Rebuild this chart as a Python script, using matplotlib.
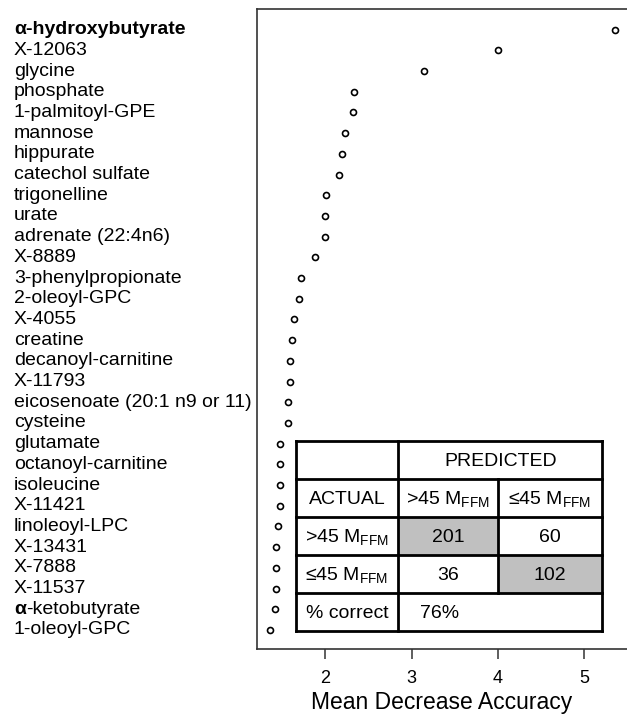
"""
Random-forest variable importance (Mean Decrease Accuracy) dot plot
with a confusion-matrix inset.
"""

import matplotlib
matplotlib.use("Agg")
import matplotlib.pyplot as plt
import matplotlib.transforms as mtransforms
from matplotlib import font_manager
from matplotlib.patches import Rectangle

# ─────────────────────────────────────────────────────────────────────────────
# DATA
# ─────────────────────────────────────────────────────────────────────────────
metabolites = [
    "α-hydroxybutyrate", "X-12063", "glycine", "phosphate", "1-palmitoyl-GPE",
    "mannose", "hippurate", "catechol sulfate", "trigonelline", "urate",
    "adrenate (22:4n6)", "X-8889", "3-phenylpropionate", "2-oleoyl-GPC",
    "X-4055", "creatine", "decanoyl-carnitine", "X-11793",
    "eicosenoate (20:1 n9 or 11)", "cysteine", "glutamate",
    "octanoyl-carnitine", "isoleucine", "X-11421", "linoleoyl-LPC",
    "X-13431", "X-7888", "X-11537", "α-ketobutyrate", "1-oleoyl-GPC",
]
mean_decrease_acc = [
    5.36, 4.00, 3.14, 2.33, 2.32, 2.23, 2.19, 2.16, 2.01, 2.00,
    1.99, 1.88, 1.72, 1.69, 1.63, 1.61, 1.59, 1.59, 1.57, 1.57,
    1.47, 1.47, 1.47, 1.47, 1.45, 1.43, 1.43, 1.43, 1.41, 1.36,
]
x_ticks = [2, 3, 4, 5]

# confusion matrix inset
grp_hi = r">45 M$_{\mathregular{FFM}}$"
grp_lo = r"≤45 M$_{\mathregular{FFM}}$"
conf_counts = [[201, 60], [36, 102]]
pct_correct = "76%"

# ─────────────────────────────────────────────────────────────────────────────
# FONTS
# ─────────────────────────────────────────────────────────────────────────────
_names = {f.name for f in font_manager.fontManager.ttflist}
NARROW = ("Liberation Sans Narrow" if "Liberation Sans Narrow" in _names
          else "Liberation Sans")
narrow_ok = NARROW == "Liberation Sans Narrow"
plt.rcParams["font.family"] = ["Liberation Sans", "DejaVu Sans"]

LBL_FS = 14
TAB_FS = 14

# ─────────────────────────────────────────────────────────────────────────────
# FIGURE
# ─────────────────────────────────────────────────────────────────────────────
fig = plt.figure(figsize=(6.27, 7.14), dpi=100)
ax = fig.add_axes([0.4094, 0.0910, 0.5906, 0.8964])

n = len(metabolites)
ypos = list(range(n))
ax.plot(mean_decrease_acc, ypos, "o", ls="none", ms=4.3, mfc="none",
        mec="black", mew=1.2, zorder=2)
ax.set_ylim(n - 1 + 0.92, -1.0)
ax.set_xlim(1.203, 5.494)
ax.set_yticks([])
ax.set_xticks(x_ticks)
ax.set_xticklabels([str(t) for t in x_ticks], family=NARROW,
                   fontsize=15 if narrow_ok else 13)
ax.tick_params(axis="x", direction="out", length=7, width=1.1,
               color="#333333", pad=8)
ax.set_xlabel("Mean Decrease Accuracy", family=NARROW,
              fontsize=20 if narrow_ok else 16.5, labelpad=3)
ax.spines["right"].set_visible(False)
for s in ("left", "top", "bottom"):
    ax.spines[s].set_linewidth(1.2)
    ax.spines[s].set_color("#333333")

# metabolite labels, left aligned in figure space
trans = mtransforms.blended_transform_factory(fig.transFigure, ax.transData)
for y, name in zip(ypos, metabolites):
    if name == "α-hydroxybutyrate":
        ax.text(0.0223, y, name, transform=trans, va="center", ha="left",
                fontsize=LBL_FS, fontweight="bold")
    elif name.startswith("α-"):
        t = ax.text(0.0223, y, "α", transform=trans, va="center", ha="left",
                    fontsize=LBL_FS, fontweight="bold")
        ax.annotate(name[1:], xy=(1, 0), xycoords=t, va="bottom", ha="left",
                    fontsize=LBL_FS)
    else:
        ax.text(0.0223, y, name, transform=trans, va="center", ha="left",
                fontsize=LBL_FS)

# ── Confusion-matrix inset ───────────────────────────────────────────────────
tab = fig.add_axes([0.4716, 0.1162, 0.4890, 0.2662])
tab.set_xlim(0, 1); tab.set_ylim(0, 1); tab.axis("off")
cx = [0.0, 0.3346, 0.6588, 1.0]
ry = [1.0, 0.8, 0.6, 0.4, 0.2, 0.0]
gray = "#c0c0c0"
tab.add_patch(Rectangle((0, 0), 1, 1, fc="white", ec="none", zorder=0))
tab.add_patch(Rectangle((cx[1], ry[3]), cx[2] - cx[1], ry[2] - ry[3],
                        fc=gray, ec="none", zorder=1))
tab.add_patch(Rectangle((cx[2], ry[4]), cx[3] - cx[2], ry[3] - ry[4],
                        fc=gray, ec="none", zorder=1))
lw = 2.0
for yy in ry:
    tab.plot([0, 1], [yy, yy], color="black", lw=lw, clip_on=False,
             solid_capstyle="projecting", zorder=3)
for xx in (cx[0], cx[1], cx[3]):
    tab.plot([xx, xx], [0, 1], color="black", lw=lw, clip_on=False,
             solid_capstyle="projecting", zorder=3)
tab.plot([cx[2], cx[2]], [ry[4], ry[1]], color="black", lw=lw,
         clip_on=False, zorder=3)


def _cell(col, row, s, x=None):
    xc = (cx[col] + cx[col + 1]) / 2 if x is None else x
    yc = (ry[row] + ry[row + 1]) / 2 - 0.01
    tab.text(xc, yc, s, ha="center", va="center", fontsize=TAB_FS, zorder=4)


_cell(0, 0, "PREDICTED", x=(cx[1] + cx[3]) / 2)
_cell(0, 1, "ACTUAL")
_cell(1, 1, grp_hi)
_cell(2, 1, grp_lo)
_cell(0, 2, grp_hi)
_cell(1, 2, str(conf_counts[0][0]))
_cell(2, 2, str(conf_counts[0][1]))
_cell(0, 3, grp_lo)
_cell(1, 3, str(conf_counts[1][0]))
_cell(2, 3, str(conf_counts[1][1]))
_cell(0, 4, "% correct")
_cell(1, 4, pct_correct, x=0.47)

fig.savefig("out.png", dpi=100)
